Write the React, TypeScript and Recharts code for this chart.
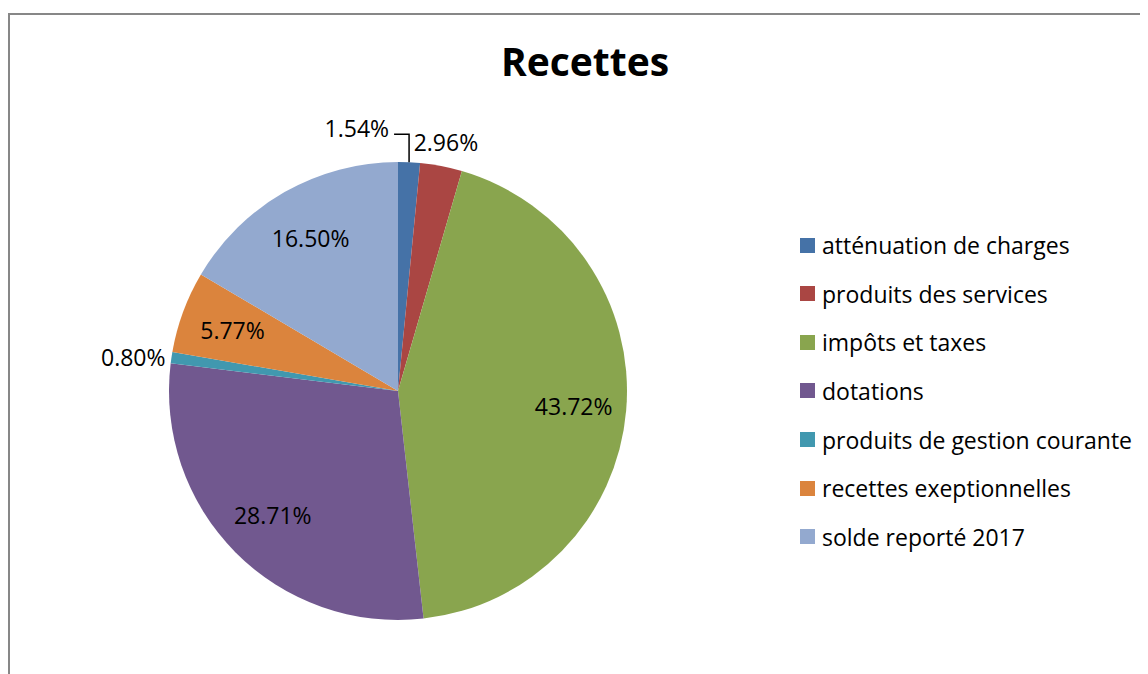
import { PieChart, Pie, Cell, Legend } from 'recharts';

const categories = [
  'atténuation de charges',
  'produits des services',
  'impôts et taxes',
  'dotations',
  'produits de gestion courante',
  'recettes exeptionnelles',
  'solde reporté 2017',
];
const shares = [1.54, 2.96, 43.72, 28.71, 0.8, 5.77, 16.5];
const colors = ['#4572A7', '#AA4643', '#89A54E', '#71588F', '#4198AF', '#DB843D', '#93A9CF'];

const data = categories.map((name, i) => ({ name, value: shares[i] }));

const RADIAN = Math.PI / 180;
const FONT = '"Open Sans", sans-serif';

function renderLabel(props: any) {
  const { cx, cy, midAngle, outerRadius, index, value } = props;
  const cos = Math.cos(-midAngle * RADIAN);
  const sin = Math.sin(-midAngle * RADIAN);
  const text = value.toFixed(2) + '%';
  const style = { fontFamily: FONT, fontSize: 23, fill: '#000' };

  if (value >= 5) {
    const r = outerRadius * 0.77;
    return (
      <text x={cx + r * cos} y={cy + r * sin} textAnchor="middle" dominantBaseline="central" style={style}>
        {text}
      </text>
    );
  }

  const ex = cx + outerRadius * cos;
  const ey = cy + outerRadius * sin;

  if (index === 0) {
    // pulled-out label with a leader line
    const ly = ey - 28;
    return (
      <g>
        <polyline points={`${ex},${ey} ${ex},${ly} ${ex - 15},${ly}`} fill="none" stroke="#000" strokeWidth={1.5} />
        <text x={ex - 20} y={ly - 6} textAnchor="end" dominantBaseline="central" style={style}>
          {text}
        </text>
      </g>
    );
  }

  if (Math.abs(cos) > 0.7) {
    const r = outerRadius + 6;
    return (
      <text x={cx + r * cos} y={cy + r * sin} textAnchor={cos < 0 ? 'end' : 'start'} dominantBaseline="central" style={style}>
        {text}
      </text>
    );
  }
  const r = outerRadius + 25;
  return (
    <text x={cx + r * cos} y={cy + r * sin} textAnchor="middle" dominantBaseline="central" style={style}>
      {text}
    </text>
  );
}

function renderLegend() {
  return (
    <div>
      {categories.map((name, i) => (
        <div key={name} style={{ height: 48.67, display: 'flex', alignItems: 'center' }}>
          <span style={{ width: 15, height: 15, background: colors[i], display: 'inline-block', marginRight: 7 }} />
          <span style={{ fontFamily: FONT, fontSize: 23, color: '#000', whiteSpace: 'nowrap' }}>{name}</span>
        </div>
      ))}
    </div>
  );
}

export default function App() {
  return (
    <div style={{ position: 'relative', width: 1140, height: 666, overflow: 'hidden' }}>
      <div
        style={{
          marginTop: 5,
          width: 1200,
          height: 700,
          border: '2px solid #878787',
          boxSizing: 'border-box',
        }}
      />
      <div
        style={{
          position: 'absolute',
          left: 0,
          top: 33,
          width: 1154,
          textAlign: 'center',
          fontFamily: FONT,
          fontWeight: 700,
          fontSize: 39,
          lineHeight: '39px',
          color: '#000',
        }}
      >
        Recettes
      </div>
      <div style={{ position: 'absolute', left: 0, top: 0 }}>
        <PieChart width={1140} height={666} margin={{ top: 0, right: 0, bottom: 0, left: 0 }}>
          <Pie
            data={data}
            dataKey="value"
            nameKey="name"
            cx={390}
            cy={383}
            outerRadius={229}
            startAngle={90}
            endAngle={-270}
            stroke="none"
            label={renderLabel}
            labelLine={false}
            isAnimationActive={false}
          >
            {data.map((d, i) => (
              <Cell key={d.name} fill={colors[i]} />
            ))}
          </Pie>
          <Legend
            layout="vertical"
            align="right"
            verticalAlign="top"
            content={renderLegend}
            wrapperStyle={{ left: 792, top: 212.7, width: 345 }}
          />
        </PieChart>
      </div>
    </div>
  );
}
